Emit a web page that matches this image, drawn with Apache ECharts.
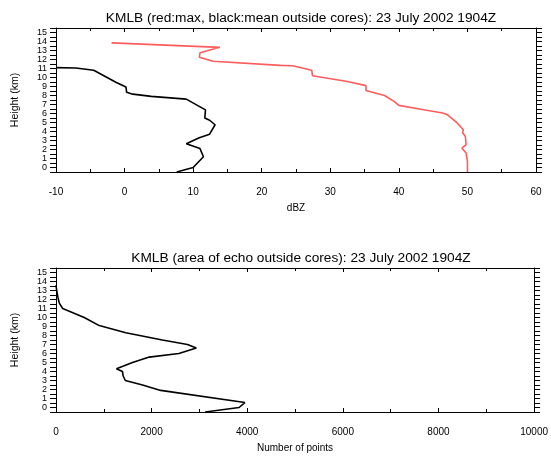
<!DOCTYPE html>
<html>
<head>
<meta charset="utf-8">
<script src="https://cdn.jsdelivr.net/npm/echarts@6/dist/echarts.min.js"></script>
<style>
  html, body { margin: 0; padding: 0; background: #fff; }
  #chart { width: 551px; height: 456px; }
</style>
</head>
<body>
<div id="chart"></div>
<script>
// top panel: mean (black) and max (red) reflectivity outside cores
const meanHeight = [-0.5, 0.0, 1.2, 2.1, 2.65, 3.3, 3.7, 4.75, 5.25, 5.5, 6.4, 7.6, 7.9, 8.15, 8.35, 8.95, 9.45, 10.8, 11.05, 11.1];
const meanDbz = [7.6, 10.0, 11.5, 11.0, 9.0, 10.9, 12.4, 13.2, 12.4, 11.7, 11.8, 9.0, 3.9, 1.2, 0.3, 0.2, -1.2, -4.5, -7.1, -10.0];

const maxHeight = [-0.5, 0.7, 1.6, 2.15, 2.55, 3.45, 3.85, 4.2, 4.95, 5.85, 6.05, 6.45, 6.9, 7.35, 8.0, 8.55, 9.1, 9.55, 10.2, 10.8, 11.3, 11.35, 11.8, 12.25, 12.75, 13.35, 13.85];
const maxDbz = [50.0, 50.0, 49.8, 49.2, 49.8, 49.7, 49.3, 49.4, 48.5, 47.1, 46.4, 43.4, 40.0, 39.3, 37.9, 35.2, 35.2, 32.5, 27.4, 27.3, 24.5, 22.7, 12.9, 10.9, 11.0, 13.9, -1.9];

// bottom panel: area of echo outside cores
const areaHeight = [-0.5, 0.0, 0.55, 1.9, 2.5, 3.0, 3.5, 4.0, 4.3, 5.0, 5.6, 6.0, 6.6, 7.0, 7.5, 8.3, 9.1, 10.0, 11.0, 11.6, 12.2, 13.0, 13.6];
const areaPoints = [3120, 3830, 3950, 2190, 1810, 1450, 1405, 1390, 1265, 1600, 1950, 2570, 2935, 2750, 2225, 1460, 905, 590, 140, 70, 42, 14, 0];

const dbzTicks = { min: -10, max: 60, step: 10 };
const pointTicks = { min: 0, max: 10000, step: 2000 };

const zip = (xs, ys) => xs.map((x, i) => [x, ys[i]]);

const font = 'Liberation Sans, DejaVu Sans, sans-serif';
const axisLine = { show: true, onZero: false, lineStyle: { color: '#000', width: 1 } };

function xAxes(grid, t, name) {
  return [
    {
      gridIndex: grid, type: 'value', position: 'bottom',
      min: t.min, max: t.max, interval: t.step,
      name: name, nameLocation: 'middle', nameGap: 31,
      nameTextStyle: { color: '#000', fontSize: 10, fontFamily: font },
      axisLine: axisLine,
      axisTick: { show: true, inside: true, length: 4, lineStyle: { color: '#000' } },
      minorTick: { show: true, splitNumber: 2, length: 3, lineStyle: { color: '#000' } },
      axisLabel: { color: '#000', fontSize: 10, fontFamily: font, margin: 15, formatter: v => String(v) },
      splitLine: { show: false }
    },
    {
      gridIndex: grid, type: 'value', position: 'top',
      min: t.min, max: t.max, interval: t.step,
      axisLine: axisLine,
      axisTick: { show: true, inside: true, length: 4, lineStyle: { color: '#000' } },
      minorTick: { show: true, splitNumber: 2, length: 3, lineStyle: { color: '#000' } },
      axisLabel: { show: false },
      splitLine: { show: false }
    }
  ];
}

function yAxes(grid) {
  return [
    {
      gridIndex: grid, type: 'value', position: 'left',
      min: -0.5, max: 15.5, interval: 0.5,
      name: 'Height (km)', nameLocation: 'middle', nameGap: 35,
      nameTextStyle: { color: '#000', fontSize: 10.5, fontFamily: font },
      axisLine: axisLine,
      axisTick: { show: true, length: 6, lineStyle: { color: '#000' } },
      axisLabel: {
        color: '#000', fontSize: 9, fontFamily: font, margin: 9,
        formatter: v => (Number.isInteger(v) ? String(v) : '')
      },
      splitLine: { show: false }
    },
    {
      gridIndex: grid, type: 'value', position: 'right',
      min: -0.5, max: 15.5, interval: 0.5,
      axisLine: axisLine,
      axisTick: { show: true, length: 6, lineStyle: { color: '#000' } },
      axisLabel: { show: false },
      splitLine: { show: false }
    }
  ];
}

const chart = echarts.init(document.getElementById('chart'), null, { renderer: 'canvas' });

const option = {
  backgroundColor: '#fff',
  animation: false,
  title: [
    {
      text: 'KMLB (red:max, black:mean outside cores): 23 July 2002 1904Z',
      left: 296, top: 6, textAlign: 'center',
      textStyle: { color: '#000', fontSize: 13.7, fontWeight: 'normal', fontFamily: font }
    },
    {
      text: 'KMLB (area of echo outside cores): 23 July 2002 1904Z',
      left: 296, top: 246, textAlign: 'center',
      textStyle: { color: '#000', fontSize: 13.7, fontWeight: 'normal', fontFamily: font }
    }
  ],
  grid: [
    { left: 56, right: 15, top: 28, height: 144 },
    { left: 56, right: 15, top: 268, height: 144 }
  ],
  xAxis: [...xAxes(0, dbzTicks, 'dBZ'), ...xAxes(1, pointTicks, 'Number of points')],
  yAxis: [...yAxes(0), ...yAxes(1)],
  series: [
    {
      name: 'mean', type: 'line', xAxisIndex: 0, yAxisIndex: 0,
      data: zip(meanDbz, meanHeight), showSymbol: false,
      lineStyle: { color: '#000', width: 1.6 }, clip: true
    },
    {
      name: 'max', type: 'line', xAxisIndex: 0, yAxisIndex: 0,
      data: zip(maxDbz, maxHeight), showSymbol: false,
      lineStyle: { color: '#ff5c5c', width: 1.6 }, clip: true
    },
    {
      name: 'area', type: 'line', xAxisIndex: 2, yAxisIndex: 2,
      data: zip(areaPoints, areaHeight), showSymbol: false,
      lineStyle: { color: '#000', width: 1.6 }, clip: true
    }
  ]
};

chart.setOption(option);
</script>
</body>
</html>
